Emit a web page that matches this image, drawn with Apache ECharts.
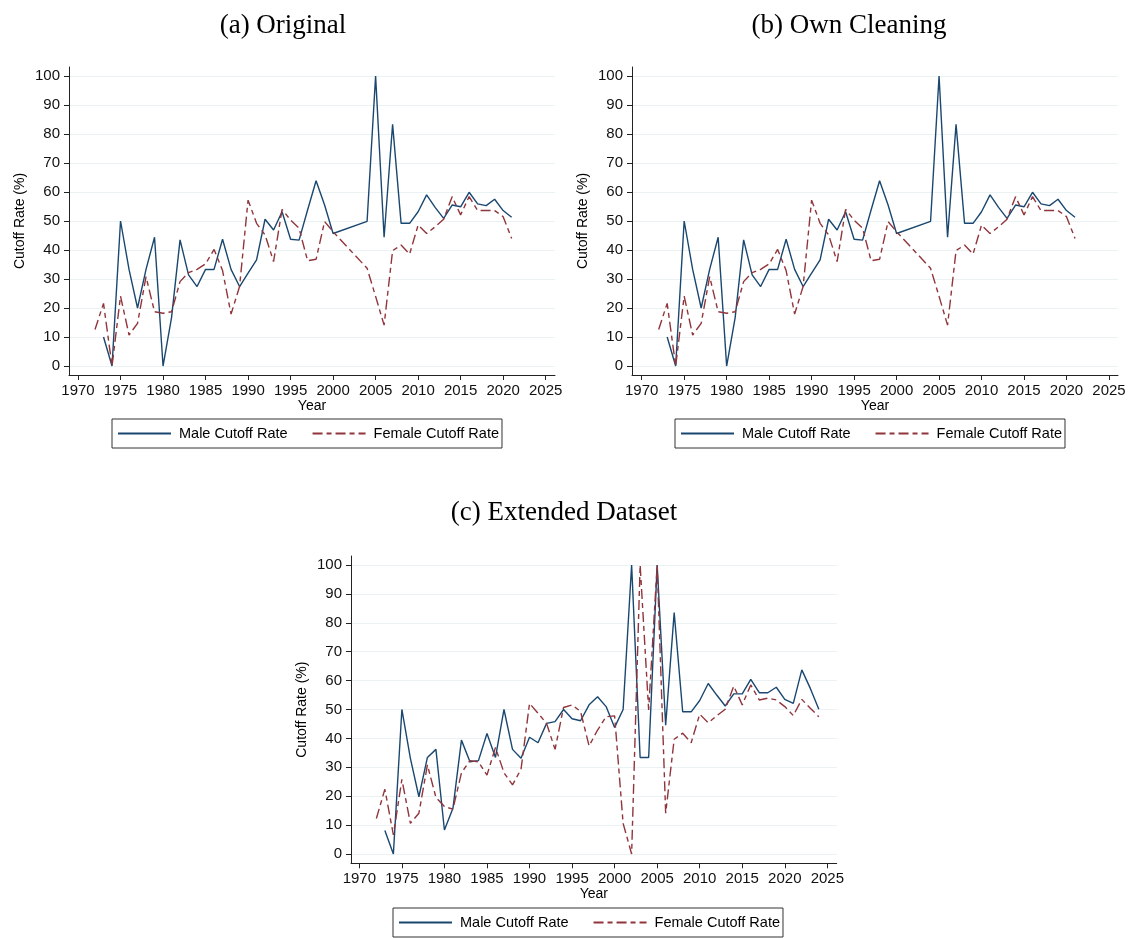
<!DOCTYPE html>
<html><head><meta charset="utf-8">
<script src="https://cdn.jsdelivr.net/npm/echarts@6/dist/echarts.min.js"></script>
<style>html,body{margin:0;padding:0;background:#fff}#c{width:1132px;height:938px}</style>
</head><body><div id="c"></div>
<script>
const panelTitles = ['(a) Original', '(b) Own Cleaning', '(c) Extended Dataset'];
const seriesNames = ['Male Cutoff Rate', 'Female Cutoff Rate'];
const xAxisName = 'Year';
const yAxisName = 'Cutoff Rate (%)';
const xTicks = [1970, 1975, 1980, 1985, 1990, 1995, 2000, 2005, 2010, 2015, 2020, 2025];
const yTicks = [0, 10, 20, 30, 40, 50, 60, 70, 80, 90, 100];

// Panel (a) Original
const maleYearsA = [1973,1974,1975,1976,1977,1978,1979,1980,1981,1982,1983,1984,1985,1986,1987,1988,1989,1990,1991,1992,1993,1994,1995,1996,1997,1998,1999,2000,
  2004,2005,2006,2007,2008,2009,2010,2011,2012,2013,2014,2015,2016,2017,2018,2019,2020,2021];
const maleA = [10,0,50,33.3,20,33.3,44.4,0,16.7,43.5,31.4,27.4,33.3,33.3,43.7,33.3,27.4,32,36.6,50.6,46.9,53.2,43.7,43.4,53.8,63.9,55.5,45.7,
  49.9,100,44.4,83.3,49.2,49.2,53.2,59,54.7,50.9,55.5,54.9,59.9,55.9,55.3,57.5,53.6,51.3];
const femaleYearsA = [1972,1973,1974,1975,1976,1977,1978,1979,1980,1981,1982,1983,1984,1985,1986,1987,1988,1989,1990,1991,1992,1993,1994,1995,1996,1997,1998,1999,2000,
  2004,2005,2006,2007,2008,2009,2010,2011,2012,2013,2014,2015,2016,2017,2018,2019,2020,2021];
const femaleA = [12.6,21.6,0,24.1,10.7,14.7,30.8,18.7,18.2,18.7,29.1,32.2,33.3,35.2,40.2,32.9,17.9,27.4,57.2,49.2,45.2,36,54,50.3,47.5,36.3,36.8,49.8,46.3,
  33.7,24,14.1,39.8,41.7,38.6,48.6,45.7,48,50.6,58.4,52.1,58.4,53.6,53.6,53.6,51.5,44];

// Panel (b) Own Cleaning
const maleYearsB = [1973,1974,1975,1976,1977,1978,1979,1980,1981,1982,1983,1984,1985,1986,1987,1988,1989,1990,1991,1992,1993,1994,1995,1996,1997,1998,1999,2000,
  2004,2005,2006,2007,2008,2009,2010,2011,2012,2013,2014,2015,2016,2017,2018,2019,2020,2021];
const maleB = [10,0,50,33.3,20,33.3,44.4,0,16.7,43.5,31.4,27.4,33.3,33.3,43.7,33.3,27.4,32,36.6,50.6,46.9,53.2,43.7,43.4,53.8,63.9,55.5,45.7,
  49.9,100,44.4,83.3,49.2,49.2,53.2,59,54.7,50.9,55.5,54.9,59.9,55.9,55.3,57.5,53.6,51.3];
const femaleYearsB = [1972,1973,1974,1975,1976,1977,1978,1979,1980,1981,1982,1983,1984,1985,1986,1987,1988,1989,1990,1991,1992,1993,1994,1995,1996,1997,1998,1999,2000,
  2004,2005,2006,2007,2008,2009,2010,2011,2012,2013,2014,2015,2016,2017,2018,2019,2020,2021];
const femaleB = [12.6,21.6,0,24.1,10.7,14.7,30.8,18.7,18.2,18.7,29.1,32.2,33.3,35.2,40.2,32.9,17.9,27.4,57.2,49.2,45.2,36,54,50.3,47.5,36.3,36.8,49.8,46.3,
  33.7,24,14.1,39.8,41.7,38.6,48.6,45.7,48,50.6,58.4,52.1,58.4,53.6,53.6,53.6,51.5,44];

// Panel (c) Extended Dataset
const maleYearsC = [1973,1974,1975,1976,1977,1978,1979,1980,1981,1982,1983,1984,1985,1986,1987,1988,1989,1990,1991,1992,1993,1994,1995,1996,1997,1998,1999,
  2000,2001,2002,2003,2004,2005,2006,2007,2008,2009,2010,2011,2012,2013,2014,2015,2016,2017,2018,2019,2020,2021,2022,2023,2024];
const maleC = [8.1,0,50,33.1,19.8,33.4,36.2,8.3,15.8,39.4,31.9,32.3,41.7,33.4,50,36.2,33.1,40.4,38.5,45.2,45.8,50,46.8,46.1,51.6,54.4,51,
  43.8,50,100,33.4,33.4,100,44.6,83.5,49.2,49.2,53.1,59,55,51.2,55.4,55.4,60.4,55.8,55.8,57.7,53.5,52.1,63.7,57.3,50.1];
const femaleYearsC = [1972,1973,1974,1975,1976,1977,1978,1979,1980,1981,1982,1983,1984,1985,1986,1987,1988,1989,1990,1991,1992,1993,1994,1995,1996,1997,1998,1999,
  2000,2001,2002,2003,2004,2005,2006,2007,2008,2009,2010,2011,2012,2013,2014,2015,2016,2017,2018,2019,2020,2021,2022,2023,2024];
const femaleC = [12.3,22.4,6.6,25.8,10.6,14.1,30.8,19.6,16.4,15.5,28.1,32.3,31.9,27.3,36.9,28.1,23.9,29.3,52.1,48.7,45.2,36.2,50.7,51.6,49.3,37.4,42.9,47.5,
  47.8,10.6,0,100,49.8,100,14.1,39.7,41.8,38.5,48.4,45.4,47.8,50.1,58.1,51.6,58.5,53.3,53.9,53.3,51,47.9,53.5,50.4,47.5];

const MALE_COLOR = '#1a476f';
const FEMALE_COLOR = '#90353b';
const FEMALE_DASH = [10, 4, 5, 4];

const panels = [
  { title: panelTitles[0], tx: 283, ty: 12, grid: {left: 69, top: 67, width: 486, height: 308}, xr: [1968.94, 2026.1], yr: [-3.1, 103.1],
    leg: {left: 112, top: 419}, m: [maleYearsA, maleA], f: [femaleYearsA, femaleA] },
  { title: panelTitles[1], tx: 849, ty: 12, grid: {left: 632, top: 67, width: 486, height: 308}, xr: [1968.86, 2026.06], yr: [-3.1, 103.1],
    leg: {left: 675, top: 419}, m: [maleYearsB, maleB], f: [femaleYearsB, femaleB] },
  { title: panelTitles[2], tx: 564, ty: 499, grid: {left: 351, top: 556, width: 485.7, height: 307.3}, xr: [1969.02, 2026.1], yr: [-3.22, 103.11],
    leg: {left: 393, top: 908}, m: [maleYearsC, maleC], f: [femaleYearsC, femaleC] }
];

const zip = (xs, ys) => xs.map((x, i) => [x, ys[i]]);
const fmt = v => String(v);

const option = {
  animation: false,
  backgroundColor: '#fff',
  title: panels.map(p => ({
    text: p.title, left: p.tx, top: p.ty, textAlign: 'center', padding: 0,
    textStyle: {fontFamily: 'Liberation Serif', fontSize: 27, fontWeight: 'normal', color: '#000'}
  })),
  legend: panels.map(p => ({
    data: seriesNames, left: p.leg.left, top: p.leg.top, orient: 'horizontal',
    itemWidth: 53, itemHeight: 12, itemGap: 24,
    itemStyle: {opacity: 0, borderWidth: 0},
    padding: [7, 3, 7, 5], borderColor: '#333', borderWidth: 1, borderRadius: 0, backgroundColor: '#fff',
    selectedMode: false,
    textStyle: {fontFamily: 'Liberation Sans', fontSize: 14.5, color: '#000', padding: [0, 0, 0, 3]}
  })),
  grid: panels.map(p => Object.assign({containLabel: false}, p.grid)),
  xAxis: panels.map((p, i) => ({
    type: 'value', gridIndex: i, min: p.xr[0], max: p.xr[1],
    name: xAxisName, nameLocation: 'middle', nameGap: 22,
    nameTextStyle: {fontFamily: 'Liberation Sans', fontSize: 14, color: '#000'},
    axisLine: {show: true, onZero: false, lineStyle: {color: '#222', width: 1}},
    axisTick: {show: true, length: 5, customValues: xTicks, lineStyle: {color: '#222', width: 1}},
    axisLabel: {customValues: xTicks, formatter: fmt, margin: 8, fontFamily: 'Liberation Sans', fontSize: 15, color: '#111'},
    splitLine: {show: false}
  })),
  yAxis: panels.map((p, i) => ({
    type: 'value', gridIndex: i, min: p.yr[0], max: p.yr[1],
    name: yAxisName, nameLocation: 'middle', nameGap: 42, nameRotate: 90,
    nameTextStyle: {fontFamily: 'Liberation Sans', fontSize: 14, color: '#000'},
    axisLine: {show: true, onZero: false, lineStyle: {color: '#222', width: 1}},
    axisTick: {show: true, length: 5, customValues: yTicks, lineStyle: {color: '#222', width: 1}},
    axisLabel: {customValues: yTicks, formatter: fmt, margin: 9, fontFamily: 'Liberation Sans', fontSize: 15, color: '#111'},
    splitLine: {show: true, lineStyle: {color: '#eaf2f3', width: 1}}
  })),
  series: []
};

panels.forEach((p, i) => {
  option.series.push({
    name: seriesNames[0], type: 'line', xAxisIndex: i, yAxisIndex: i, symbol: 'none',
    color: MALE_COLOR, lineStyle: {color: MALE_COLOR, width: 1.4, type: 'solid'},
    data: zip(p.m[0], p.m[1])
  });
  option.series.push({
    name: seriesNames[1], type: 'line', xAxisIndex: i, yAxisIndex: i, symbol: 'none',
    color: FEMALE_COLOR, lineStyle: {color: FEMALE_COLOR, width: 1.4, type: FEMALE_DASH},
    data: zip(p.f[0], p.f[1])
  });
});

const chart = echarts.init(document.getElementById('c'), null, {renderer: 'canvas'});
chart.setOption(option);
</script>
</body></html>
